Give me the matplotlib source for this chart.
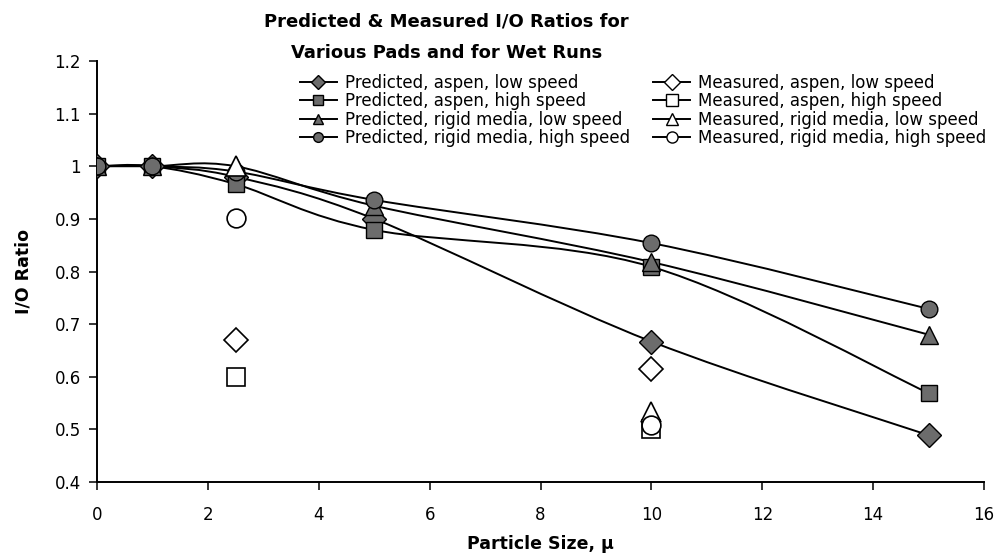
import matplotlib
matplotlib.use("Agg")
import matplotlib.pyplot as plt
from matplotlib.path import Path
from matplotlib.patches import PathPatch
from matplotlib.lines import Line2D
import numpy as np

plt.rcParams['font.family'] = ['DejaVu Sans']

# ---- data ----
pred_x = [0, 1, 2.5, 5, 10, 15]
pred_aspen_low = [1.0, 1.0, 0.98, 0.90, 0.667, 0.489]
pred_aspen_high = [1.0, 1.0, 0.966, 0.879, 0.809, 0.569]
pred_rigid_low = [1.0, 1.0, 1.0, 0.925, 0.818, 0.68]
pred_rigid_high = [1.0, 1.0, 0.99, 0.936, 0.854, 0.729]

meas_x = [2.5, 10]
meas_aspen_low = [0.67, 0.615]
meas_aspen_high = [0.60, 0.50]
meas_rigid_low = [1.0, 0.533]
meas_rigid_high = [0.902, 0.508]

labels_pred = ["Predicted, aspen, low speed", "Predicted, aspen, high speed",
               "Predicted, rigid media, low speed", "Predicted, rigid media, high speed"]
labels_meas = ["Measured, aspen, low speed", "Measured, aspen, high speed",
               "Measured, rigid media, low speed", "Measured, rigid media, high speed"]
markers = ['D', 's', '^', 'o']

fig = plt.figure(figsize=(9.95, 5.57), dpi=100)
ax = fig.add_axes([0.0975, 0.1346, 0.8915, 0.7559])


def smooth_path(xs, ys):
    pts = np.column_stack([xs, ys]).astype(float)
    n = len(pts)
    verts = [pts[0]]
    codes = [Path.MOVETO]
    for i in range(n - 1):
        p0 = pts[i - 1] if i > 0 else pts[i]
        p1 = pts[i]
        p2 = pts[i + 1]
        p3 = pts[i + 2] if i + 2 < n else pts[i + 1]
        c1 = p1 + (p2 - p0) / 6.0
        c2 = p2 - (p3 - p1) / 6.0
        verts += [c1, c2, p2]
        codes += [Path.CURVE4] * 3
    return Path(verts, codes)


pred_series = [pred_aspen_low, pred_aspen_high, pred_rigid_low, pred_rigid_high]
meas_series = [meas_aspen_low, meas_aspen_high, meas_rigid_low, meas_rigid_high]
msize_pred = [12, 12, 12.5, 12]
msize_meas = [12.5, 13.5, 14, 13.5]
fill_gray = '#6c6c6c'

for ys in pred_series:
    ax.add_patch(PathPatch(smooth_path(pred_x, ys), fill=False, edgecolor='black',
                           lw=1.4, zorder=2))

for ys, m, ms in zip(pred_series, markers, msize_pred):
    ax.plot(pred_x, ys, linestyle='none', marker=m, markersize=ms,
            markerfacecolor=fill_gray, markeredgecolor='black', markeredgewidth=1.0, zorder=3)

for ys, m, ms in zip(meas_series, markers, msize_meas):
    ax.plot(meas_x, ys, linestyle='none', marker=m, markersize=ms,
            markerfacecolor='white', markeredgecolor='black', markeredgewidth=1.2, zorder=4)

ax.set_xlim(0, 16)
ax.set_ylim(0.4, 1.2)
ax.set_xticks(np.arange(0, 17, 2))
ax.set_yticks([0.4, 0.5, 0.6, 0.7, 0.8, 0.9, 1.0, 1.1, 1.2])
ax.set_yticklabels(['0.4', '0.5', '0.6', '0.7', '0.8', '0.9', '1', '1.1', '1.2'])
for s in ['top', 'right']:
    ax.spines[s].set_visible(False)
for s in ['left', 'bottom']:
    ax.spines[s].set_linewidth(1.4)
ax.tick_params(axis='both', direction='out', length=5.5, width=1.1, labelsize=12)
ax.tick_params(axis='x', pad=12)
ax.tick_params(axis='y', pad=6)
ax.set_xlabel("Particle Size, \u03bc", fontsize=12.5, fontweight='bold', labelpad=8)
ax.set_ylabel("I/O Ratio", fontsize=12.5, fontweight='bold', labelpad=16)

fig.text(0.449, 1 - 22 / 557, "Predicted & Measured I/O Ratios for", ha='center', va='center',
         fontsize=13, fontweight='bold')
fig.text(0.449, 1 - 53 / 557, "Various Pads and for Wet Runs", ha='center', va='center',
         fontsize=13, fontweight='bold')

handles = []
lbls = []
for m, l in zip(markers, labels_pred):
    handles.append(Line2D([], [], color='black', lw=1.4, marker=m, markersize=7,
                          markerfacecolor=fill_gray, markeredgecolor='black'))
    lbls.append(l)
for m, l in zip(markers, labels_meas):
    handles.append(Line2D([], [], color='black', lw=1.4, marker=m, markersize=8,
                          markerfacecolor='white', markeredgecolor='black'))
    lbls.append(l)

fig.legend(handles, lbls, ncol=2, loc='upper left', bbox_to_anchor=(300 / 995, 1 - 74 / 557),
           frameon=False, fontsize=12, handlelength=2.2, handletextpad=0.5,
           labelspacing=0.02, columnspacing=1.4, borderaxespad=0, borderpad=0)

fig.savefig("out.png", dpi=100)
